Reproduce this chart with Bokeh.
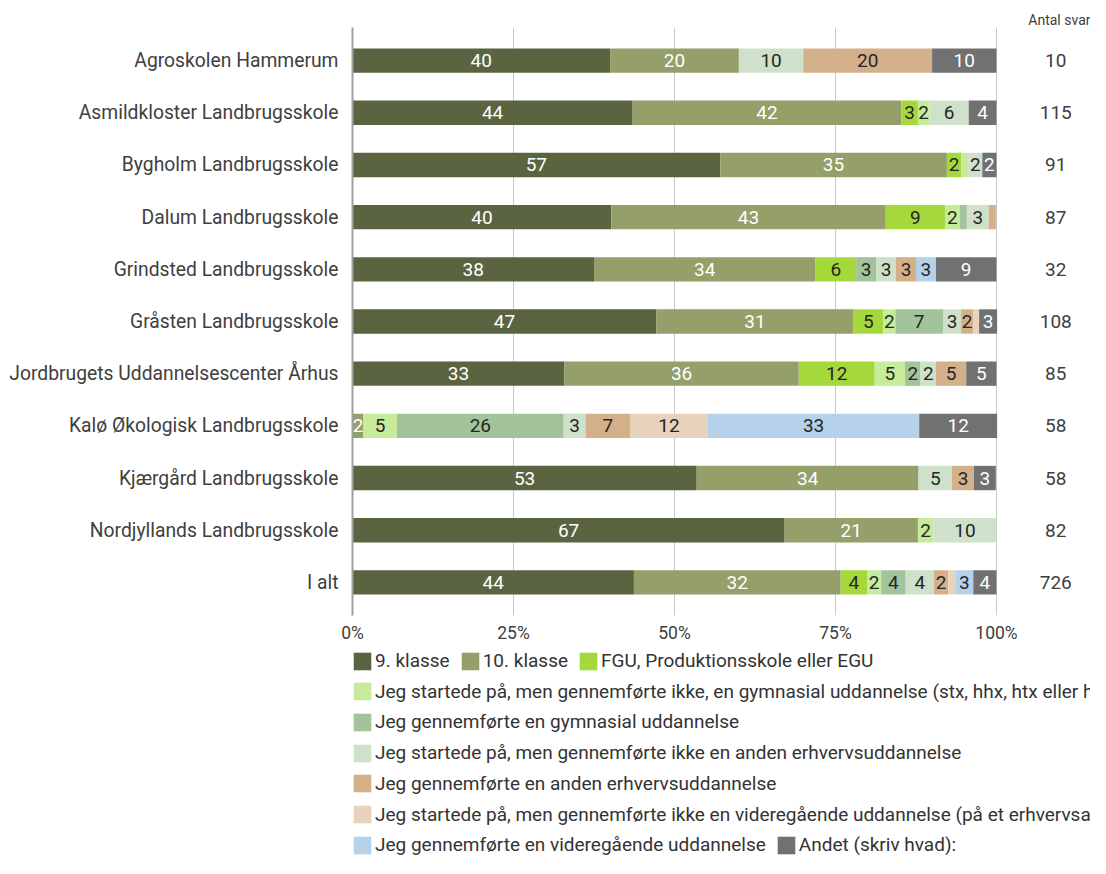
import math
from bokeh.plotting import figure
from bokeh.models import (ColumnDataSource, FactorRange, Range1d, FixedTicker,
                          Legend, LegendItem)
from bokeh.layouts import column
from bokeh.embed import file_html
from bokeh.resources import INLINE
from bokeh.core.properties import value

# ---------------- data ----------------
schools = [
    "Agroskolen Hammerum",
    "Asmildkloster Landbrugsskole",
    "Bygholm Landbrugsskole",
    "Dalum Landbrugsskole",
    "Grindsted Landbrugsskole",
    "Gråsten Landbrugsskole",
    "Jordbrugets Uddannelsescenter Århus",
    "Kalø Økologisk Landbrugsskole",
    "Kjærgård Landbrugsskole",
    "Nordjyllands Landbrugsskole",
    "I alt",
]
antal_svar = [10, 115, 91, 87, 32, 108, 85, 58, 58, 82, 726]

series_names = [
    "9. klasse",
    "10. klasse",
    "FGU, Produktionsskole eller EGU",
    "Jeg startede på, men gennemførte ikke, en gymnasial uddannelse (stx, hhx, htx eller hf)",
    "Jeg gennemførte en gymnasial uddannelse",
    "Jeg startede på, men gennemførte ikke en anden erhvervsuddannelse",
    "Jeg gennemførte en anden erhvervsuddannelse",
    "Jeg startede på, men gennemførte ikke en videregående uddannelse (på et erhvervsakademi, professionshøjskole eller universitet)",
    "Jeg gennemførte en videregående uddannelse",
    "Andet (skriv hvad):",
]

# percentages per school (same order as schools)
klasse9   = [40.0, 43.5, 57.1, 40.2, 37.5, 47.2, 32.9, 0.0, 53.45, 67.1, 43.7]
klasse10  = [20.0, 41.7, 35.2, 42.6, 34.4, 30.6, 36.4, 1.7, 34.45, 20.7, 32.1]
fgu       = [0.0, 2.6, 2.2, 9.2, 6.3, 4.6, 11.8, 0.0, 0.0, 0.0, 4.1]
gym_start = [0.0, 1.8, 1.1, 2.3, 0.0, 1.9, 4.7, 5.2, 0.0, 2.4, 2.2]
gym_done  = [0.0, 0.0, 0.0, 1.1, 3.1, 7.4, 2.4, 25.9, 0.0, 0.0, 3.8]
erh_start = [10.0, 6.1, 2.2, 3.4, 3.1, 2.8, 2.4, 3.4, 5.2, 9.8, 4.4]
erh_done  = [20.0, 0.0, 0.0, 1.1, 3.1, 1.9, 4.7, 6.9, 3.4, 0.0, 2.2]
vid_start = [0.0, 0.0, 0.0, 0.0, 0.0, 0.9, 0.0, 12.1, 0.0, 0.0, 1.1]
vid_done  = [0.0, 0.0, 0.0, 0.0, 3.1, 0.0, 0.0, 32.8, 0.0, 0.0, 2.8]
andet     = [10.0, 4.3, 2.2, 0.0, 9.4, 2.8, 4.7, 12.1, 3.4, 0.0, 3.6]

tick_values = [0, 25, 50, 75, 100]
tick_labels = ["0%", "25%", "50%", "75%", "100%"]

colors = ["#5a6441", "#949f69", "#a5d83b", "#c7eb9b", "#a2c39b",
          "#cfe1cb", "#d4b08a", "#e7d3bb", "#b6d1ea", "#717171"]
label_colors = ["#ffffff", "#ffffff", "#262626", "#262626", "#262626",
                "#262626", "#262626", "#262626", "#262626", "#ffffff"]

series = [klasse9, klasse10, fgu, gym_start, gym_done,
          erh_start, erh_done, vid_start, vid_done, andet]
keys = [f"s{i}" for i in range(len(series))]

FONT = "Roboto"

data = {"school": schools}
for k, vals in zip(keys, series):
    data[k] = vals
source = ColumnDataSource(data)

# ---------------- chart ----------------
CHART_H = 645
p = figure(width=1090, height=CHART_H,
           y_range=FactorRange(factors=schools[::-1], range_padding=0.135,
                               range_padding_units="absolute"),
           x_range=Range1d(0, 114.6),
           title="Antal svar",
           output_backend="svg", toolbar_location=None,
           min_border_left=352, min_border_right=0,
           min_border_top=27, min_border_bottom=30)

p.hbar_stack(keys, y="school", height=0.467, fill_color=colors,
             line_color=None, source=source)

# segment labels
lx, ly, lt, lc = [], [], [], []
for j, school in enumerate(schools):
    cum = 0.0
    for i, vals in enumerate(series):
        v = vals[j]
        r = math.floor(v + 0.5)
        if r >= 2:
            lx.append(cum + v / 2)
            ly.append(school)
            lt.append(str(r))
            lc.append(label_colors[i])
        cum += v
lab_src = ColumnDataSource(dict(x=lx, y=ly, t=lt, c=lc))
p.text(x="x", y="y", text="t", text_color="c", source=lab_src,
       text_align="center", text_baseline="middle",
       text_font=value(FONT), text_font_size="19px")

# Antal svar column
cnt_src = ColumnDataSource(dict(x=[109.2] * len(schools), y=schools,
                                t=[str(n) for n in antal_svar]))
p.text(x="x", y="y", text="t", source=cnt_src, text_color="#404040",
       text_align="center", text_baseline="middle",
       text_font=value(FONT), text_font_size="19px")

p.title.align = "right"
p.title.text_font = FONT
p.title.text_font_size = "14px"
p.title.text_font_style = "normal"
p.title.text_color = "#404040"
p.title.standoff = 0

p.xaxis.ticker = FixedTicker(ticks=tick_values)
p.xaxis.major_label_overrides = dict(zip(tick_values, tick_labels))
p.xaxis.axis_line_color = None
p.xaxis.major_tick_line_color = None
p.xaxis.minor_tick_line_color = None
p.xaxis.major_label_standoff = 1
p.xaxis.major_label_text_font = FONT
p.xaxis.major_label_text_font_size = "17.5px"
p.xaxis.major_label_text_color = "#404040"

p.yaxis.axis_line_color = "#a0a0a0"
p.yaxis.axis_line_width = 2
p.yaxis.major_tick_line_color = None
p.yaxis.minor_tick_line_color = None
p.yaxis.major_label_standoff = 8
p.yaxis.major_label_text_font = FONT
p.yaxis.major_label_text_font_size = "19.3px"
p.yaxis.major_label_text_color = "#404040"

p.xgrid.ticker = FixedTicker(ticks=tick_values[1:])
p.xgrid.grid_line_color = "#c8c8c8"
p.ygrid.grid_line_color = None
p.outline_line_color = None

# ---------------- legend panel ----------------
LEG_H = 858 - CHART_H
q = figure(width=1090, height=LEG_H, x_range=Range1d(0, 1), y_range=Range1d(0, 1),
           x_axis_location=None, y_axis_location=None,
           output_backend="svg", toolbar_location=None,
           min_border_left=352, min_border_right=0,
           min_border_top=0, min_border_bottom=0)
q.grid.visible = False
q.outline_line_color = None

# zero-size swatch renderers that only feed the legend glyphs
swatches = [q.rect(x=[0], y=[0], width=0, height=0, fill_color=c, line_color=None)
            for c in colors]

rows = [[0, 1, 2], [3], [4], [5], [6], [7], [8, 9]]
row_centers = [16, 46.7, 77.4, 108.1, 138.8, 169.5, 200.2]
item_h = 22
for row, cy in zip(rows, row_centers):
    items = [LegendItem(label=series_names[i], renderers=[swatches[i]]) for i in row]
    leg = Legend(items=items, orientation="horizontal",
                 location=(-1, LEG_H - cy - item_h / 2),
                 padding=0, margin=0, spacing=9,
                 glyph_width=22, glyph_height=22, label_height=item_h,
                 label_standoff=2, border_line_color=None,
                 background_fill_alpha=0,
                 label_text_font=FONT, label_text_font_size="19px",
                 label_text_color="#333333")
    q.add_layout(leg)

layout = column(p, q, spacing=0)
open("out.html", "w").write(file_html(layout, INLINE))
